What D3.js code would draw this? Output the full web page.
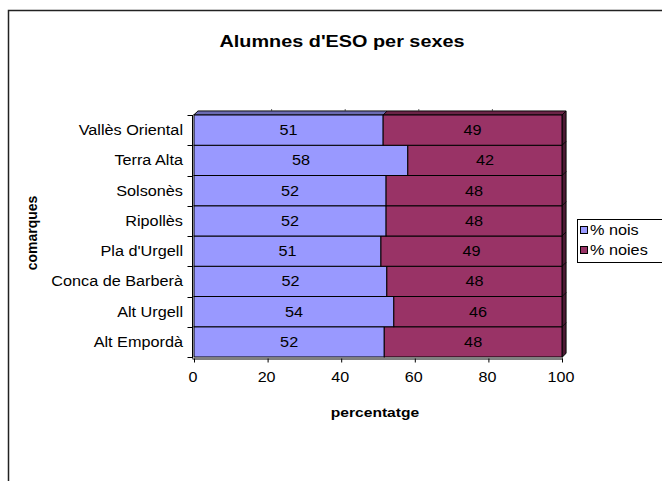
<!DOCTYPE html>
<html>
<head>
<meta charset="utf-8">
<script src="https://cdn.jsdelivr.net/npm/d3@7"></script>
<style>
  html, body { margin: 0; padding: 0; background: #fff; }
  svg text { font-family: "Liberation Sans", Arial, sans-serif; fill: #000; }
</style>
</head>
<body>
<svg id="chart" width="662" height="481"></svg>
<script>
// ---- data ----
const title = "Alumnes d'ESO per sexes";
const xTitle = "percentatge";
const yTitle = "comarques";
const categories = ["Alt Empordà", "Alt Urgell", "Conca de Barberà", "Pla d'Urgell",
                    "Ripollès", "Solsonès", "Terra Alta", "Vallès Oriental"];
const seriesNames = ["% nois", "% noies"];
const nois  = [51.7, 54.3, 52.4, 50.8, 52.2, 52.2, 58.1, 51.4];
const noies = [48.3, 45.7, 47.6, 49.2, 47.8, 47.8, 41.9, 48.6];
const xTicks = [0, 20, 40, 60, 80, 100];

// ---- styles ----
const colors = ["#9999FF", "#993366"];
const sideColors = ["#4C4C80", "#4C1933"];
const topColors = ["#6B6BB3", "#6B2447"];
const SX = 1.16; // horizontal text stretch

const svg = d3.select("#chart");

// outer frame
svg.append("rect").attr("x", 8.5).attr("y", 10.5).attr("width", 700).attr("height", 500)
  .attr("fill", "#fff").attr("stroke", "#222").attr("stroke-width", 1.5);

const x = d3.scaleLinear().domain([0, 100]).range([194, 562]);
const y = d3.scaleBand().domain(categories.slice().reverse()).range([115, 357]).padding(0);
const D = 4; // depth

function txt(g, tx, ty, s, opts) {
  return g.append("text")
    .attr("transform", `translate(${tx},${ty}) scale(${opts.sx || SX},1)`)
    .attr("text-anchor", opts.anchor || "middle")
    .attr("dominant-baseline", opts.baseline || "central")
    .style("font-size", (opts.size || 14) + "px")
    .style("font-weight", opts.bold ? "bold" : "normal")
    .text(s);
}

// title
txt(svg, 342, 42, title, {size: 16, bold: true, sx: 1.24});

// back wall
const x0 = x(0), x1 = x(100), yTop = y.range()[0], yBot = y.range()[1];
svg.append("rect").attr("x", x0 + D).attr("y", yTop - D)
  .attr("width", x1 - x0).attr("height", yBot - yTop)
  .attr("fill", "#fff").attr("stroke", "#999").attr("stroke-width", 1);
svg.append("g").selectAll("line").data(xTicks.slice(1, -1)).join("line")
  .attr("x1", d => x(d) + D).attr("x2", d => x(d) + D)
  .attr("y1", yTop - D - 2).attr("y2", yTop - D + 1)
  .attr("stroke", "#666");
svg.append("path")
  .attr("d", `M${x0 - 1},${yTop} L${x0 + D},${yTop - D} M${x1},${yBot + 1} L${x1 + D},${yBot + 1 - D} L${x1 + D},${yTop - D}`)
  .attr("fill", "none").attr("stroke", "#999").attr("stroke-width", 1);

// stacked data
const rows = categories.map((c, i) => ({c, vals: [nois[i], noies[i]]}));
const segs = [];
rows.forEach(r => {
  let acc = 0;
  r.vals.forEach((v, k) => { segs.push({c: r.c, k, v, a: acc, b: acc + v}); acc += v; });
});

const bars = svg.append("g");
const topCat = y.domain()[0];
segs.filter(s => s.c === topCat).forEach(s => {
  const yy = y(s.c);
  bars.append("path")
    .attr("d", `M${x(s.a)},${yy} L${x(s.a) + D},${yy - D} L${x(s.b) + D},${yy - D} L${x(s.b)},${yy} Z`)
    .attr("fill", topColors[s.k]).attr("stroke", "#000").attr("stroke-width", 0.8);
});
segs.filter(s => s.k === 1).forEach(s => {
  const yy = y(s.c), h = y.bandwidth();
  bars.append("path")
    .attr("d", `M${x(s.b)},${yy} L${x(s.b) + D},${yy - D} L${x(s.b) + D},${yy + h - D} L${x(s.b)},${yy + h} Z`)
    .attr("fill", sideColors[1]).attr("stroke", "#000").attr("stroke-width", 0.8);
});
bars.selectAll("rect.seg").data(segs).join("rect")
  .attr("class", "seg")
  .attr("x", d => x(d.a)).attr("y", d => y(d.c))
  .attr("width", d => x(d.b) - x(d.a)).attr("height", y.bandwidth())
  .attr("fill", d => colors[d.k]).attr("stroke", "#000").attr("stroke-width", 1);
segs.forEach(s => {
  txt(svg, (x(s.a) + x(s.b)) / 2, y(s.c) + y.bandwidth() / 2, d3.format(".0f")(s.v), {size: 14});
});

// left axis
const axisX = 192.5, axisY = 358.5;
const yEdges = y.domain().map(c => y(c)).concat([yBot]);
svg.append("line").attr("x1", axisX).attr("x2", axisX).attr("y1", yTop).attr("y2", axisY)
  .attr("stroke", "#000");
svg.append("g").selectAll("line").data(yEdges).join("line")
  .attr("x1", axisX - 5).attr("x2", axisX).attr("y1", d => Math.round(d) + 0.5).attr("y2", d => Math.round(d) + 0.5)
  .attr("stroke", "#000");
y.domain().forEach(c => {
  txt(svg, 183, y(c) + y.bandwidth() / 2, c, {size: 14, anchor: "end"});
});

// bottom axis
const xa = svg.append("g").attr("transform", `translate(0,${axisY})`)
  .call(d3.axisBottom(x).tickValues(xTicks).tickSize(4).tickSizeOuter(0).tickFormat(d3.format("d")));
xa.select(".domain").attr("stroke", "#000").attr("d", `M${axisX},0.5H${x1 + 1}`);
xa.selectAll(".tick line").attr("stroke", "#000");
xa.selectAll(".tick text").remove();
xTicks.forEach(t => txt(svg, x(t) - 1, 377, String(t), {size: 14, sx: 1.15}));

// axis titles
txt(svg, 375, 412, xTitle, {size: 13, bold: true, sx: 1.2});
svg.append("text")
  .attr("transform", `translate(32,233) rotate(-90)`)
  .attr("text-anchor", "middle").attr("dominant-baseline", "central")
  .style("font-size", "14px").style("font-weight", "bold")
  .text(yTitle);

// legend
const lg = svg.append("g");
lg.append("rect").attr("x", 577.5).attr("y", 219.5).attr("width", 100).attr("height", 43)
  .attr("fill", "#fff").attr("stroke", "#000");
seriesNames.forEach((n, i) => {
  const cy = 230 + i * 20;
  lg.append("rect").attr("x", 580.5).attr("y", cy - 3.5).attr("width", 7).attr("height", 7)
    .attr("fill", colors[i]).attr("stroke", "#000");
  txt(lg, 590, cy, n, {size: 14, anchor: "start"});
});
</script>
</body>
</html>
